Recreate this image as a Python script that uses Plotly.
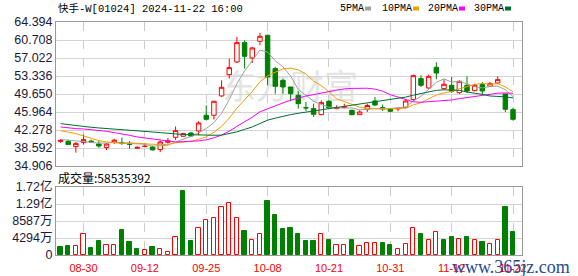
import plotly.graph_objects as go
import pandas as pd

# ---------------- data ----------------
dates = ["08-27", "08-28", "08-29", "08-30", "09-02", "09-03", "09-04", "09-05", "09-09", "09-10",
         "09-11", "09-12", "09-13", "09-16", "09-17", "09-19", "09-20", "09-23", "09-24", "09-25",
         "09-26", "09-27", "09-30", "10-02", "10-03", "10-04", "10-07", "10-08", "10-09", "10-10",
         "10-14", "10-15", "10-16", "10-17", "10-18", "10-21", "10-22", "10-23", "10-24", "10-25",
         "10-28", "10-29", "10-30", "10-31", "11-01", "11-04", "11-05", "11-06", "11-07", "11-08",
         "11-11", "11-12", "11-13", "11-14", "11-15", "11-18", "11-19", "11-20", "11-21", "11-22"]

opens = [39.95, 39.96, 38.87, 39.70, 40.00, 39.42, 38.67, 39.83, 39.70, 39.55,
         38.55, 38.90, 38.80, 38.26, 39.76, 40.78, 41.00, 41.67, 42.08, 45.29,
         45.29, 49.25, 53.62, 56.21, 60.17, 57.03, 60.44, 61.67, 54.85, 52.46,
         51.09, 49.38, 46.86, 46.65, 45.42, 48.16, 46.65, 46.90, 46.31, 45.42,
         46.52, 48.22, 46.86, 46.65, 46.60, 46.86, 48.50, 52.80, 50.88, 55.12,
         50.75, 51.43, 49.93, 51.43, 50.34, 51.57, 51.23, 51.91, 49.66, 46.45]
closes = [40.15, 39.30, 39.49, 40.30, 39.85, 39.00, 39.42, 40.20, 39.55, 39.35,
          38.72, 38.95, 38.20, 39.83, 40.10, 42.15, 41.54, 41.05, 43.72, 44.47,
          48.16, 51.02, 55.05, 60.17, 57.37, 59.08, 61.47, 53.14, 51.23, 51.09,
          49.72, 47.67, 46.80, 45.49, 47.88, 46.79, 46.86, 47.05, 45.42, 45.97,
          47.30, 47.40, 46.60, 46.11, 46.70, 48.22, 53.41, 51.43, 53.27, 53.95,
          51.64, 50.20, 52.25, 50.27, 51.43, 50.27, 51.77, 52.59, 46.52, 44.47]
highs = [40.35, 40.30, 39.83, 41.33, 40.30, 40.10, 39.60, 40.50, 40.72, 40.03,
         38.95, 39.60, 39.07, 40.10, 40.65, 43.00, 41.70, 41.90, 44.06, 47.33,
         48.20, 52.46, 56.89, 61.33, 60.65, 59.28, 62.15, 61.80, 55.18, 52.80,
         51.09, 50.20, 48.00, 47.67, 48.36, 48.36, 47.33, 47.67, 46.45, 46.31,
         47.67, 49.04, 47.47, 46.79, 46.93, 48.50, 53.62, 53.48, 53.62, 56.14,
         52.66, 53.14, 52.46, 53.27, 51.77, 52.11, 52.11, 53.27, 49.66, 46.86]
lows = [39.65, 39.20, 37.64, 39.28, 39.60, 38.60, 38.19, 39.42, 39.21, 38.46,
        38.40, 38.70, 38.10, 37.78, 39.50, 40.24, 40.90, 40.90, 41.19, 44.26,
        44.40, 49.04, 52.80, 56.00, 54.85, 56.00, 59.62, 51.43, 49.72, 49.72,
        48.16, 46.65, 46.17, 44.95, 45.29, 46.52, 46.52, 46.65, 45.29, 45.42,
        45.97, 47.20, 46.17, 45.97, 46.11, 46.70, 48.22, 51.09, 50.75, 52.66,
        50.61, 49.86, 49.66, 49.86, 50.20, 49.52, 51.09, 51.77, 45.97, 44.20]
volumes = [20.0e6, 22.6e6, 22.6e6, 52.8e6, 17.6e6, 35.2e6, 24.3e6, 24.3e6, 62.9e6, 32.7e6,
           15.1e6, 11.7e6, 20.1e6, 14.2e6, 7.5e6, 44.4e6, 160.9e6, 35.2e6, 67.0e6, 87.2e6,
           94.7e6, 122.3e6, 132.4e6, 94.7e6, 60.3e6, 37.7e6, 52.0e6, 135.8e6, 100.6e6, 65.0e6,
           67.8e6, 52.3e6, 34.6e6, 34.8e6, 52.0e6, 37.0e6, 26.0e6, 24.2e6, 37.0e6, 21.6e6,
           31.5e6, 31.5e6, 31.5e6, 24.5e6, 16.2e6, 28.8e6, 69.0e6, 52.3e6, 37.0e6, 59.0e6,
           37.0e6, 44.7e6, 41.4e6, 44.7e6, 37.0e6, 32.0e6, 28.8e6, 37.0e6, 120.4e6, 58535392]
prev_close_before = 40.40  # close of the day before the first visible bar

# moving-average values before a full window is visible
ma5_early = [40.35, 40.20, 40.00, 39.95]
ma10_early = [42.15, 41.87, 41.53, 41.06, 40.51, 40.10, 39.83, 39.76, 39.55]
ma20_early = [42.90, 42.70, 42.56, 42.49, 42.35, 42.15, 42.01, 41.74, 41.53, 41.19,
              40.85, 40.64, 40.37, 40.17, 40.03, 39.83, 39.90, 39.97, 40.05]
ma30_early = [43.58, 43.37, 43.17, 42.97, 42.83, 42.70, 42.56, 42.42, 42.28, 42.22,
              42.15, 42.01, 41.87, 41.74, 41.67, 41.47, 41.35, 41.28, 41.25, 41.22,
              41.20, 41.22, 41.50, 41.90, 42.40, 42.90, 43.60, 44.30, 44.70]

price_ticks = [34.906, 38.592, 42.278, 45.964, 49.650, 53.336, 57.022, 60.708, 64.394]
price_ticktext = ["34.906", "38.592", "42.278", "45.964", "49.650", "53.336", "57.022", "60.708", "64.394"]
vol_ticks = [0, 42935000, 85870000, 128805000, 171740000]
vol_ticktext = ["0", "4294万", "8587万", "1.29亿", "1.72亿"]
date_ticks = ["08-30", "09-12", "09-25", "10-08", "10-21", "10-31", "11-12", "11-22"]

title_text = "快手-W[01024] 2024-11-22 16:00"
vol_label = "成交量:58535392"
ma_names = ["5PMA", "10PMA", "20PMA", "30PMA"]
ma_windows = [5, 10, 20, 30]
ma_colors = ["#a0a0a0", "#f0a000", "#ff00ff", "#006f30"]

# ---------------- derived ----------------
n = len(closes)
xs = list(range(n))
cser = pd.Series(closes)
early = [ma5_early, ma10_early, ma20_early, ma30_early]
mas = []
for w, e in zip(ma_windows, early):
    r = cser.rolling(w).mean().tolist()
    mas.append(e + r[len(e):])

RED = "#ff0000"
GREEN = "#008000"
prevs = [prev_close_before] + closes[:-1]
vol_up = [c > p for c, p in zip(closes, prevs)]
vol_fill = ["#ffffff" if u else GREEN for u in vol_up]
vol_line = [RED if u else GREEN for u in vol_up]
tick_idx = [dates.index(d) for d in date_ticks]

# layout geometry (pixels)
W, H = 578, 276
L, R, T, B = 56, 522, 22, 255
PW, PH = R - L, B - T


def px(x):
    return (x - L) / PW


def py(y):
    return (B - y) / PH


fig = go.Figure()
fig.add_trace(go.Candlestick(
    x=xs, open=opens, high=highs, low=lows, close=closes,
    increasing=dict(line=dict(color=RED, width=1), fillcolor="#ffffff"),
    decreasing=dict(line=dict(color=GREEN, width=1), fillcolor=GREEN),
    whiskerwidth=0, showlegend=False, xaxis="x", yaxis="y"))
for name, vals, col in zip(ma_names, mas, ma_colors):
    fig.add_trace(go.Scatter(x=xs, y=vals, mode="lines", name=name,
                             line=dict(color=col, width=1), showlegend=False,
                             xaxis="x", yaxis="y"))
fig.add_trace(go.Bar(x=xs, y=volumes, width=0.56,
                     marker=dict(color=vol_fill, line=dict(color=vol_line, width=1)),
                     showlegend=False, xaxis="x2", yaxis="y2"))

xr = [-0.59, 60.17]
axis_common = dict(showline=True, mirror=True, linecolor="#999999", linewidth=1,
                   zeroline=False, automargin=False)
fig.update_layout(
    width=W, height=H,
    margin=dict(l=L, r=W - R, t=T, b=H - B, pad=0, autoexpand=False),
    paper_bgcolor="#ffffff", plot_bgcolor="#ffffff",
    boxgap=0.42, boxgroupgap=0,
    bargap=0,
    xaxis=dict(domain=[0, 1], anchor="y", range=xr, tickvals=tick_idx, ticks="",
               showticklabels=False, showgrid=True, gridcolor="#cccccc",
               griddash="dash", gridwidth=1, rangeslider=dict(visible=False),
               **axis_common),
    yaxis=dict(domain=[py(166), 1], anchor="x", range=[price_ticks[0], price_ticks[-1]],
               tickvals=price_ticks, ticktext=price_ticktext, showgrid=True, ticks="",
               gridcolor="#d4d4d4", gridwidth=1,
               tickfont=dict(family="Liberation Sans, Arial", size=12.5, color="#1a1a3a"),
               **axis_common),
    xaxis2=dict(domain=[0, 1], anchor="y2", range=xr, tickvals=tick_idx,
                ticktext=date_ticks, showgrid=True, gridcolor="#cccccc",
                griddash="dash", gridwidth=1,
                ticks="outside", ticklen=3, tickcolor="rgba(0,0,0,0)",
                tickfont=dict(family="Liberation Sans, Arial", size=11, color=RED),
                **axis_common),
    yaxis2=dict(domain=[0, py(187)], anchor="x2", range=[0, vol_ticks[-1]],
                tickvals=vol_ticks, ticktext=vol_ticktext, showgrid=True, ticks="",
                gridcolor="#d4d4d4", gridwidth=1,
                tickfont=dict(family="Liberation Sans, Noto Sans CJK SC", size=12.5, color="#1a1a3a"),
                **axis_common),
    font=dict(family="Noto Sans CJK SC"),
)

annotations = [
    dict(text=title_text, xref="paper", yref="paper", x=px(56), y=py(9),
         xanchor="left", yanchor="middle", showarrow=False,
         font=dict(family="Liberation Mono, Noto Sans CJK SC", size=10.5, color="#000000")),
    dict(text=vol_label, xref="paper", yref="paper", x=px(56), y=py(177.5),
         xanchor="left", yanchor="middle", showarrow=False,
         font=dict(family="Noto Sans CJK SC", size=12, color="#000000")),
    dict(text="www.365jz.com", xref="paper", yref="paper", x=px(511), y=py(267),
         xanchor="center", yanchor="middle", showarrow=False,
         font=dict(family="Liberation Serif", size=18, color="#274c8c")),
]
legend_x = [338, 380, 426, 472]
square_x = [365, 413, 459, 505]
shapes = []
for name, col, lx, sx in zip(ma_names, ma_colors, legend_x, square_x):
    annotations.append(dict(text=name, xref="paper", yref="paper", x=px(lx), y=py(9),
                            xanchor="left", yanchor="middle", showarrow=False,
                            font=dict(family="Liberation Mono", size=10, color="#000000")))
    shapes.append(dict(type="rect", xref="paper", yref="paper",
                       x0=px(sx), x1=px(sx + 6), y0=py(10.5), y1=py(6.5),
                       fillcolor=col, line=dict(width=0)))
# faint watermark behind the candles
shapes.append(dict(type="rect", xref="paper", yref="paper", layer="below",
                   x0=px(200), x1=px(380), y0=py(104), y1=py(74),
                   fillcolor="rgba(0,0,0,0)", line=dict(width=0),
                   label=dict(text="东方财富", font=dict(family="Noto Sans CJK SC", size=34,
                                                     color="#e4e4e4"))))
fig.update_layout(annotations=annotations, shapes=shapes)

fig.write_html("out.html")
